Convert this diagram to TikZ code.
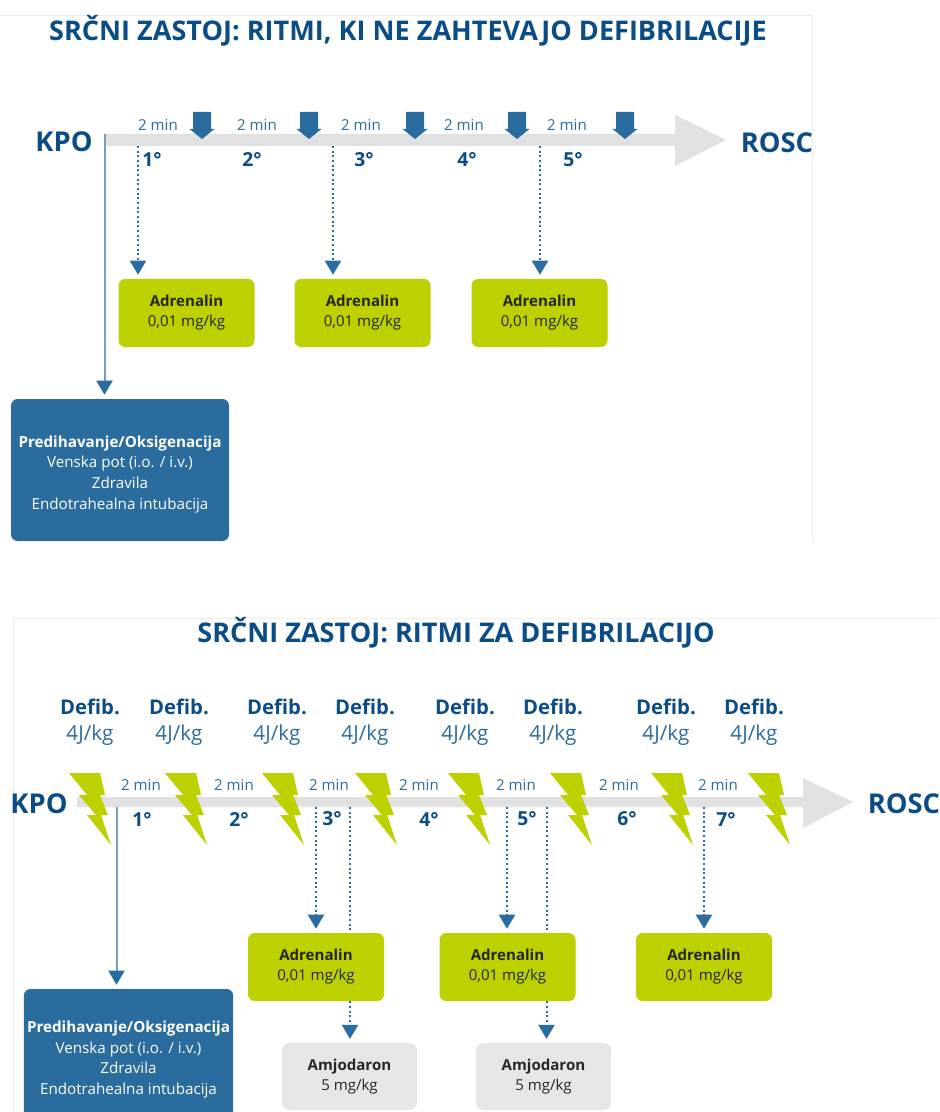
\documentclass[tikz,border=0pt]{standalone}
\usepackage{fontspec}
\setmainfont{Open Sans}
\usetikzlibrary{arrows.meta,positioning,calc}
\definecolor{darkblue}{HTML}{0B4C85}
\definecolor{midblue}{HTML}{2A6C9E}
\definecolor{limegreen}{HTML}{BDD000}
\definecolor{bargray}{HTML}{E0E1E0}
\definecolor{boxgray}{HTML}{E6E6E6}
\definecolor{edgegray}{HTML}{EDEDED}
\tikzset{
    headline/.style={font=\fontsize{20.3}{22}\selectfont\bfseries, text=darkblue, inner sep=0pt},
    endlabel/.style={font=\fontsize{20.5}{22}\selectfont\bfseries, text=darkblue, inner sep=0pt},
    minlabel/.style={font=\fontsize{11.3}{13}\selectfont, text=midblue, inner sep=0pt},
    cyclelabel/.style={font=\fontsize{14.5}{16}\selectfont\bfseries, text=darkblue, inner sep=0pt},
    defiblabel/.style={font=\fontsize{15.2}{17}\selectfont\bfseries, text=darkblue, inner sep=0pt},
    joulelabel/.style={font=\fontsize{15.5}{17}\selectfont, text=midblue, inner sep=0pt},
    drugbox/.style={rounded corners=5pt, inner sep=0pt, align=center, text=black!85,
        font=\fontsize{11.3}{15}\selectfont},
    adrbox/.style={drugbox, fill=limegreen, minimum width=102pt, minimum height=51pt},
    amjbox/.style={drugbox, fill=boxgray, minimum width=101pt, minimum height=50pt},
    carebox/.style={rounded corners=5pt, fill=midblue, text=white, inner sep=0pt, align=center,
        font=\fontsize{11.4}{15.5}\selectfont},
    dotline/.style={midblue, line width=1.5pt, dash pattern=on 1.6pt off 1.9pt},
    solidline/.style={midblue!65, line width=1.5pt},
    tiparrow/.style={-{Triangle[width=12pt,length=10.5pt,color=midblue]}, shorten >=3pt},
    shock/.pic={
        \fill[limegreen] (0,0) -- (31,0) -- (36,22) -- (31,22) -- (39,42) -- (32,42)
            -- (42,72) -- (18,42) -- (27,42) -- (10,22) -- (18,22) -- cycle;
    },
    pulse/.pic={
        \fill[midblue] (-9,0) -- (9,0) -- (9,17) -- (12.5,17) -- (0,27) -- (-12.5,17) -- (-9,17) -- cycle;
    }
}
\begin{document}
\begin{tikzpicture}[x=0.75pt, y=-0.75pt]
    \useasboundingbox (0,0) rectangle (939,1112);
    \clip (0,0) rectangle (939,1112);
    \draw[edgegray, line width=0.6pt] (0,15) -- (812,15) -- (812,542);
    \draw[edgegray, line width=0.6pt] (13,1112) -- (13,618) -- (939,618);

    \node[headline] (titleA) at (408,31) {SRČNI ZASTOJ: RITMI, KI NE ZAHTEVAJO DEFIBRILACIJE};
    \fill[bargray] (105,134) -- (675,134) -- (675,115) -- (726,140) -- (675,166) -- (675,146) -- (105,146) -- cycle;
    \node[endlabel] (kpoA) at (64,142) {KPO};
    \node[endlabel] (roscA) at (777,143) {ROSC};

    \node[minlabel] (minA1) at (158,125) {2 min};
    \node[minlabel] (minA2) at (257,125) {2 min};
    \node[minlabel] (minA3) at (361,125) {2 min};
    \node[minlabel] (minA4) at (464,125) {2 min};
    \node[minlabel] (minA5) at (567,125) {2 min};
    \pic at (202,112) {pulse};
    \pic at (309,112) {pulse};
    \pic at (415,112) {pulse};
    \pic at (517,112) {pulse};
    \pic at (625,112) {pulse};
    \node[cyclelabel] (cycA1) at (152,160) {1°};
    \node[cyclelabel] (cycA2) at (252,160) {2°};
    \node[cyclelabel] (cycA3) at (364,160) {3°};
    \node[cyclelabel] (cycA4) at (467,160) {4°};
    \node[cyclelabel] (cycA5) at (573,160) {5°};

    \node[adrbox] (adrA1) at (186.5,313) {\textbf{Adrenalin}\\0,01 mg/kg};
    \node[adrbox] (adrA2) at (362.5,313) {\textbf{Adrenalin}\\0,01 mg/kg};
    \node[adrbox] (adrA3) at (539.5,313) {\textbf{Adrenalin}\\0,01 mg/kg};
    \node[carebox, minimum width=163.5pt, minimum height=106.5pt] (careA) at (120,470)
        {\rule{0pt}{15pt}\textbf{Predihavanje/Oksigenacija}\\Venska pot (i.o. / i.v.)\\Zdravila\\Endotrahealna intubacija};

    \coordinate (startA) at (104.5,134);
    \coordinate (dropA1) at (138,146);
    \coordinate (dropA2) at (333,146);
    \coordinate (dropA3) at (540,146);
    \draw[solidline, tiparrow] (startA) -- (startA |- careA.north);
    \draw[dotline, tiparrow] (dropA1) -- (dropA1 |- adrA1.north);
    \draw[dotline, tiparrow] (dropA2) -- (dropA2 |- adrA2.north);
    \draw[dotline, tiparrow] (dropA3) -- (dropA3 |- adrA3.north);

    \node[headline] (titleB) at (456,633) {SRČNI ZASTOJ: RITMI ZA DEFIBRILACIJO};
    \fill[bargray] (77,797) -- (803,797) -- (803,778) -- (853,802) -- (803,828) -- (803,807) -- (77,807) -- cycle;
    \node[endlabel] (kpoB) at (39,804) {KPO};
    \node[endlabel] (roscB) at (904,804) {ROSC};

    \node[defiblabel] (defB1) at (90,707) {Defib.};
    \node[defiblabel] (defB2) at (179,707) {Defib.};
    \node[defiblabel] (defB3) at (277,707) {Defib.};
    \node[defiblabel] (defB4) at (365,707) {Defib.};
    \node[defiblabel] (defB5) at (465,707) {Defib.};
    \node[defiblabel] (defB6) at (553,707) {Defib.};
    \node[defiblabel] (defB7) at (666,707) {Defib.};
    \node[defiblabel] (defB8) at (754,707) {Defib.};
    \node[joulelabel] (jouB1) at (90,735) {4J/kg};
    \node[joulelabel] (jouB2) at (179,735) {4J/kg};
    \node[joulelabel] (jouB3) at (277,735) {4J/kg};
    \node[joulelabel] (jouB4) at (365,735) {4J/kg};
    \node[joulelabel] (jouB5) at (465,735) {4J/kg};
    \node[joulelabel] (jouB6) at (553,735) {4J/kg};
    \node[joulelabel] (jouB7) at (666,735) {4J/kg};
    \node[joulelabel] (jouB8) at (754,735) {4J/kg};

    \node[minlabel] (minB1) at (141,785) {2 min};
    \node[minlabel] (minB2) at (234,785) {2 min};
    \node[minlabel] (minB3) at (329,785) {2 min};
    \node[minlabel] (minB4) at (419,785) {2 min};
    \node[minlabel] (minB5) at (516,785) {2 min};
    \node[minlabel] (minB6) at (619,785) {2 min};
    \node[minlabel] (minB7) at (718,785) {2 min};
    \node[cyclelabel] (cycB1) at (142,819) {1°};
    \node[cyclelabel] (cycB2) at (239,819) {2°};
    \node[cyclelabel] (cycB3) at (332,819) {3°};
    \node[cyclelabel] (cycB4) at (429,819) {4°};
    \node[cyclelabel] (cycB5) at (527,819) {5°};
    \node[cyclelabel] (cycB6) at (627,819) {6°};
    \node[cyclelabel] (cycB7) at (726,819) {7°};

    \node[adrbox] (adrB1) at (316,967) {\textbf{Adrenalin}\\0,01 mg/kg};
    \node[adrbox] (adrB2) at (507.5,967) {\textbf{Adrenalin}\\0,01 mg/kg};
    \node[adrbox] (adrB3) at (704,967) {\textbf{Adrenalin}\\0,01 mg/kg};
    \node[amjbox] (amjB1) at (349.5,1076.5) {\textbf{Amjodaron}\\5 mg/kg};
    \node[amjbox] (amjB2) at (543.5,1076.5) {\textbf{Amjodaron}\\5 mg/kg};
    \node[carebox, minimum width=157pt, minimum height=105.75pt] (careB) at (128.5,1059.5)
        {\textbf{Predihavanje/Oksigenacija}\\Venska pot (i.o. / i.v.)\\Zdravila\\Endotrahealna intubacija};

    \coordinate (startB) at (116.5,807);
    \coordinate (dropB1) at (316,807);
    \coordinate (dropB2) at (350,807);
    \coordinate (dropB3) at (507,807);
    \coordinate (dropB4) at (546.5,807);
    \coordinate (dropB5) at (704,807);
    \draw[solidline, tiparrow] (startB) -- (startB |- careB.north);
    \draw[dotline, tiparrow] (dropB1) -- (dropB1 |- adrB1.north);
    \draw[dotline] (dropB2) -- (dropB2 |- adrB1.north);
    \draw[dotline, tiparrow] (dropB2 |- adrB1.south) -- (dropB2 |- amjB1.north);
    \draw[dotline, tiparrow] (dropB3) -- (dropB3 |- adrB2.north);
    \draw[dotline] (dropB4) -- (dropB4 |- adrB2.north);
    \draw[dotline, tiparrow] (dropB4 |- adrB2.south) -- (dropB4 |- amjB2.north);
    \draw[dotline, tiparrow] (dropB5) -- (dropB5 |- adrB3.north);

    \pic at (69,773) {shock};
    \pic at (165,773) {shock};
    \pic at (262,773) {shock};
    \pic at (355,773) {shock};
    \pic at (448,773) {shock};
    \pic at (550,773) {shock};
    \pic at (651,773) {shock};
    \pic at (748,773) {shock};
\end{tikzpicture}
\end{document}
